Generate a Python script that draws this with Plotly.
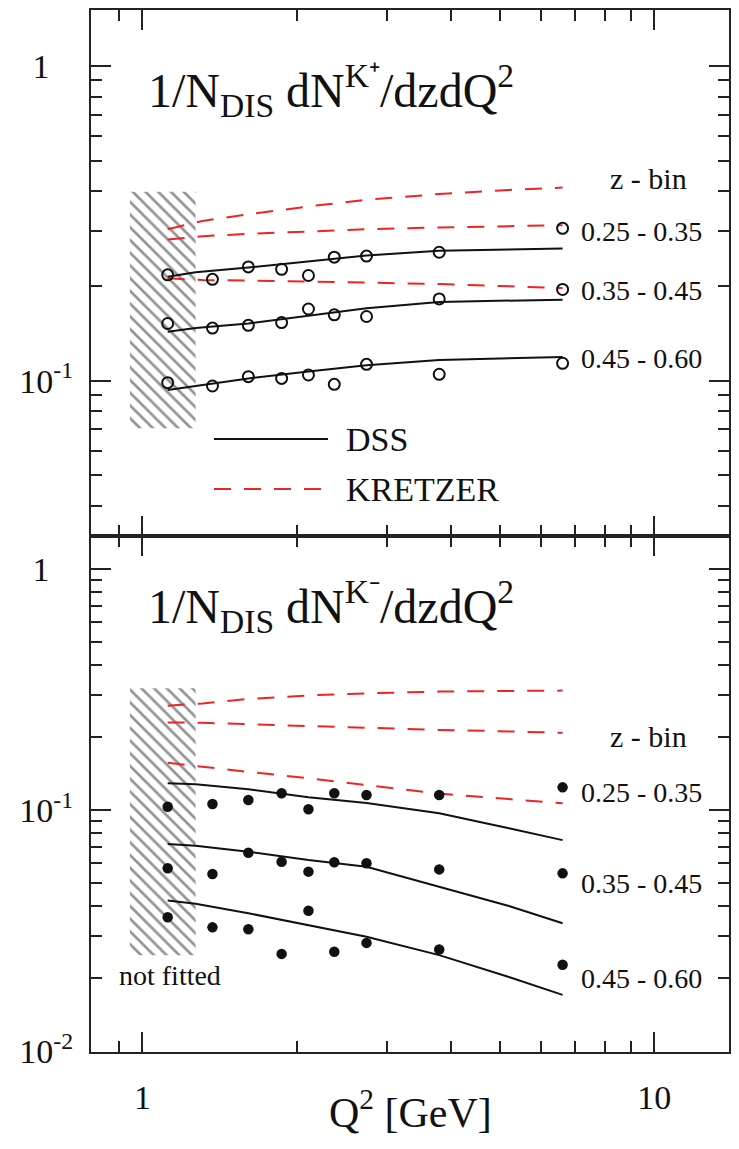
import plotly.graph_objects as go

# ---------------- data ----------------
q2 = [1.12, 1.37, 1.61, 1.87, 2.11, 2.37, 2.74, 3.80, 6.62]

# K+ multiplicities (open circles)
kp_z1 = [0.217, 0.210, 0.230, 0.226, 0.216, 0.247, 0.249, 0.256, 0.305]
kp_z2 = [0.152, 0.147, 0.150, 0.153, 0.169, 0.162, 0.160, 0.182, 0.195]
kp_z3 = [0.0986, 0.0962, 0.103, 0.1017, 0.1043, 0.0974, 0.1127, 0.1048, 0.1136]

# K- multiplicities (filled circles)
km_z1 = [0.1032, 0.1059, 0.110, 0.1173, 0.1007, 0.1173, 0.1154, 0.1154, 0.1242]
km_z2 = [0.0573, 0.0543, 0.0665, 0.061, 0.0555, 0.0607, 0.0601, 0.0567, 0.0546]
km_z3 = [0.0359, 0.0326, 0.032, 0.0253, 0.0382, 0.0258, 0.0281, 0.0264, 0.0228]

# DSS curves
q2_dss = [1.12, 1.27, 1.61, 2.11, 2.74, 3.80, 5.20, 6.62]
dss_kp_z1 = [0.214, 0.221, 0.229, 0.239, 0.250, 0.259, 0.262, 0.263]
dss_kp_z2 = [0.143, 0.147, 0.152, 0.161, 0.170, 0.178, 0.180, 0.181]
dss_kp_z3 = [0.0934, 0.0962, 0.1017, 0.107, 0.112, 0.1164, 0.118, 0.119]
dss_km_z1 = [0.129, 0.128, 0.122, 0.113, 0.107, 0.097, 0.084, 0.075]
dss_km_z2 = [0.0723, 0.0711, 0.0671, 0.062, 0.0582, 0.0481, 0.040, 0.0339]
dss_km_z3 = [0.0421, 0.0408, 0.0373, 0.0333, 0.0298, 0.025, 0.0203, 0.0171]

# KRETZER curves
q2_kre = [1.12, 1.31, 1.61, 2.11, 2.74, 3.80, 5.20, 6.62]
kre_kp_z1 = [0.303, 0.322, 0.338, 0.358, 0.376, 0.392, 0.404, 0.411]
kre_kp_z2 = [0.281, 0.288, 0.293, 0.298, 0.303, 0.307, 0.310, 0.312]
kre_kp_z3 = [0.2115, 0.209, 0.208, 0.206, 0.205, 0.203, 0.200, 0.197]
kre_km_z1 = [0.271, 0.277, 0.289, 0.299, 0.305, 0.310, 0.312, 0.313]
kre_km_z2 = [0.231, 0.230, 0.227, 0.223, 0.219, 0.215, 0.212, 0.209]
kre_km_z3 = [0.157, 0.151, 0.144, 0.1355, 0.127, 0.117, 0.111, 0.1066]

# not-fitted region
hatch_q2 = [0.945, 1.27]
hatch_kp = [0.0706, 0.399]
hatch_km = [0.025, 0.32]

zbins = ["0.25 - 0.35", "0.35 - 0.45", "0.45 - 0.60"]

# ---------------- figure ----------------
# the page adds an 8px body margin, so the figure is 16px smaller than the window
OFF = 8
W, H = 739 - 2 * OFF, 1149 - 2 * OFF
ML, MR, MT, MB = 91 - OFF, 2, 10 - OFF, 89
PW, PH = W - ML - MR, H - MT - MB
FONT = "Liberation Serif, Times New Roman, serif"
RED = "#ee2424"
DASH = "17px,13px"


def px(x):
    return (x - OFF - ML) / PW


def py(y):
    return (H - MB - (y - OFF)) / PH


fig = go.Figure()


def hatch(xa, ya, yb):
    fig.add_trace(go.Scatter(
        x=[hatch_q2[0], hatch_q2[1], hatch_q2[1], hatch_q2[0], hatch_q2[0]],
        y=[yb[0], yb[0], yb[1], yb[1], yb[0]],
        xaxis=xa, yaxis=ya, mode="lines", line=dict(width=0),
        fill="toself", fillcolor="rgba(0,0,0,0)",
        fillpattern=dict(shape="\\", size=9, solidity=0.3,
                         fgcolor="#2a2a2a", bgcolor="white"),
        hoverinfo="skip", showlegend=False))


hatch("x2", "y2", hatch_kp)
hatch("x", "y", hatch_km)

for ys in (kre_kp_z1, kre_kp_z2, kre_kp_z3):
    fig.add_trace(go.Scatter(x=q2_kre, y=ys, xaxis="x2", yaxis="y2", mode="lines",
                             line=dict(color=RED, width=2, dash=DASH), showlegend=False))
for ys in (kre_km_z1, kre_km_z2, kre_km_z3):
    fig.add_trace(go.Scatter(x=q2_kre, y=ys, xaxis="x", yaxis="y", mode="lines",
                             line=dict(color=RED, width=2, dash=DASH), showlegend=False))
for ys in (dss_kp_z1, dss_kp_z2, dss_kp_z3):
    fig.add_trace(go.Scatter(x=q2_dss, y=ys, xaxis="x2", yaxis="y2", mode="lines",
                             line=dict(color="#111111", width=2), showlegend=False))
for ys in (dss_km_z1, dss_km_z2, dss_km_z3):
    fig.add_trace(go.Scatter(x=q2_dss, y=ys, xaxis="x", yaxis="y", mode="lines",
                             line=dict(color="#111111", width=2), showlegend=False))
for ys in (kp_z1, kp_z2, kp_z3):
    fig.add_trace(go.Scatter(x=q2, y=ys, xaxis="x2", yaxis="y2", mode="markers",
                             marker=dict(symbol="circle-open", size=11, color="#111111",
                                         line=dict(width=2, color="#111111")),
                             showlegend=False))
for ys in (km_z1, km_z2, km_z3):
    fig.add_trace(go.Scatter(x=q2, y=ys, xaxis="x", yaxis="y", mode="markers",
                             marker=dict(symbol="circle", size=10.5, color="#111111"),
                             showlegend=False))

xminor = [0.9, 2, 3, 4, 5, 6, 7, 8, 9]
yminor = [m * d for d in (0.01, 0.1) for m in range(2, 10)]

common_axis = dict(
    type="log", showgrid=False, zeroline=False, showline=True, linewidth=2,
    linecolor="#222222", mirror="ticks", ticks="inside", ticklen=20, tickwidth=1.8,
    tickcolor="#222222", automargin=False,
    minor=dict(tickmode="array", tickvals=[], ticks="inside", ticklen=11,
               tickwidth=1.8, tickcolor="#222222", showgrid=False),
    tickfont=dict(family=FONT, size=34, color="#111111"),
)

xcfg = dict(common_axis)
xcfg.update(range=[-0.1006, 1.146], tickmode="array", tickvals=[1, 10],
            ticktext=["1", "10"], ticklabelstandoff=14)
xcfg["minor"] = dict(common_axis["minor"], tickvals=xminor)

fig.update_layout(
    xaxis=dict(xcfg, anchor="y", domain=[0, 1]),
    xaxis2=dict(xcfg, anchor="y2", domain=[0, 1], matches="x", showticklabels=False),
    yaxis=dict(common_axis, domain=[0, 0.4952], range=[-2.004, 0.137], tickmode="array",
               tickvals=[0.01, 0.1, 1],
               ticktext=["10<sup>-2</sup>", "10<sup>-1</sup>", "1\u2002\u2009"],
               ticklabelstandoff=9,
               minor=dict(common_axis["minor"], tickvals=yminor)),
    yaxis2=dict(common_axis, domain=[0.4952, 1], range=[-1.4936, 0.1783], tickmode="array",
                tickvals=[0.1, 1],
                ticktext=["10<sup>-1</sup>", "1\u2002\u2009"],
                ticklabelstandoff=9,
                minor=dict(common_axis["minor"], tickvals=[v for v in yminor if v > 0.03])),
    width=W, height=H, margin=dict(l=ML, r=MR, t=MT, b=MB, autoexpand=False),
    paper_bgcolor="white", plot_bgcolor="white", showlegend=False,
)

ann = []


def text(s, x, y, size, xanchor="left", yanchor="middle"):
    ann.append(dict(text=s, x=px(x), y=py(y), xref="paper", yref="paper",
                    xanchor=xanchor, yanchor=yanchor, showarrow=False,
                    font=dict(family=FONT, size=size, color="#111111")))


text("1/N<sub>DIS</sub> dN<sup>K\u207a</sup>/dzdQ<sup>2</sup>", 146, 90, 48)
text("1/N<sub>DIS</sub> dN<sup>K\u207b</sup>/dzdQ<sup>2</sup>", 146, 606, 48)
text("z - bin", 648, 178, 30, xanchor="center")
text("z - bin", 648, 737, 30, xanchor="center")
for lab, yy in zip(zbins, (231, 290, 358)):
    text(lab, 579, yy, 28)
for lab, yy in zip(zbins, (792, 883, 978)):
    text(lab, 579, yy, 28)
text("not fitted", 170, 975, 28, xanchor="center")
text("DSS", 344, 439, 34)
text("KRETZER", 344, 489, 34)
text("Q<sup>2</sup> [GeV]", 410, 1109, 42, xanchor="center")
fig.update_layout(annotations=ann)

fig.add_shape(type="line", xref="paper", yref="paper", x0=px(214), x1=px(328),
              y0=py(439), y1=py(439), line=dict(color="#111111", width=2))
fig.add_shape(type="line", xref="paper", yref="paper", x0=px(214), x1=px(328),
              y0=py(489), y1=py(489), line=dict(color=RED, width=2, dash=DASH))

fig.write_html("out.html")
